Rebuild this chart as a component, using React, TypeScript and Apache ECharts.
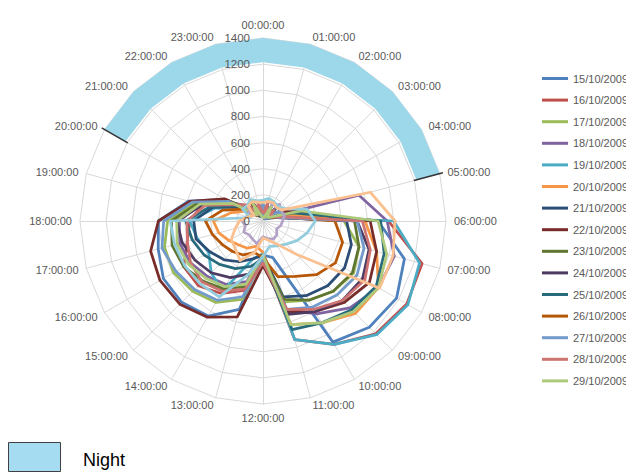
import React, { useEffect, useRef } from 'react';
import * as echarts from 'echarts';

const hourLabels = [
  '00:00:00', '01:00:00', '02:00:00', '03:00:00', '04:00:00', '05:00:00',
  '06:00:00', '07:00:00', '08:00:00', '09:00:00', '10:00:00', '11:00:00',
  '12:00:00', '13:00:00', '14:00:00', '15:00:00', '16:00:00', '17:00:00',
  '18:00:00', '19:00:00', '20:00:00', '21:00:00', '22:00:00', '23:00:00',
];
const radialTicks = [0, 200, 400, 600, 800, 1000, 1200, 1400];
const radialMax = 1400;

const nightHours = [20, 21, 22, 23, 0, 1, 2, 3, 4, 5];
const nightInner = 1215;
const nightOuter = 1400;

const seriesNames = [
  '15/10/2009', '16/10/2009', '17/10/2009', '18/10/2009', '19/10/2009', '20/10/2009',
  '21/10/2009', '22/10/2009', '23/10/2009', '24/10/2009', '25/10/2009', '26/10/2009',
  '27/10/2009', '28/10/2009', '29/10/2009', '30/10/2009', '31/10/2009', '01/11/2009',
];
const seriesColors = [
  '#4F81BD', '#C0504D', '#9BBB59', '#8064A2', '#4BACC6', '#F79646',
  '#2C4D75', '#772C2A', '#5F7530', '#4D3B62', '#276A7C', '#B65708',
  '#729ACA', '#CD7371', '#AFC97A', '#B3A2C7', '#93CDDD', '#FAC090',
];
const legendCount = 15;

// values per hour, 00:00 .. 23:00
const d1510 = [90, 30, 120, 35, 150, 130, 880, 1120, 1180, 1150, 1070, 290, 260, 700, 840, 880, 880, 830, 800, 590, 330, 80, 160, 50];
const d1610 = [50, 140, 30, 110, 60, 140, 960, 1260, 1270, 1220, 1090, 940, 280, 550, 640, 700, 700, 600, 560, 480, 260, 150, 70, 120];
const d1710 = [130, 45, 95, 30, 125, 220, 620, 760, 800, 760, 700, 640, 300, 620, 720, 760, 790, 780, 730, 540, 300, 70, 140, 40];
const d1810 = [35, 125, 40, 150, 60, 760, 950, 1040, 1020, 940, 820, 700, 250, 480, 560, 600, 640, 660, 640, 500, 280, 160, 60, 130];
const d1910 = [145, 35, 110, 40, 170, 150, 1000, 1240, 1280, 1230, 1090, 940, 250, 300, 620, 560, 480, 520, 560, 380, 200, 80, 155, 50];
const d2010 = [60, 110, 30, 90, 65, 180, 780, 900, 1020, 1000, 900, 820, 240, 200, 240, 260, 300, 350, 380, 250, 150, 60, 100, 70];
const d2110 = [30, 75, 20, 60, 40, 110, 640, 700, 720, 700, 660, 600, 260, 300, 360, 420, 470, 530, 530, 400, 220, 60, 40, 85];
const d2210 = [105, 40, 135, 30, 150, 260, 820, 900, 940, 880, 800, 720, 340, 760, 850, 900, 910, 890, 800, 580, 340, 100, 170, 60];
const d2310 = [40, 130, 45, 105, 50, 120, 700, 760, 790, 760, 700, 620, 280, 520, 600, 650, 700, 720, 700, 520, 290, 140, 50, 95];
const d2410 = [85, 30, 65, 40, 95, 100, 720, 840, 880, 860, 800, 740, 270, 420, 500, 560, 600, 640, 660, 480, 260, 60, 95, 40];
const d2510 = [50, 115, 40, 130, 55, 240, 900, 960, 1000, 960, 900, 860, 290, 360, 420, 470, 520, 560, 590, 420, 230, 120, 55, 145];
const d2610 = [45, 30, 100, 35, 60, 120, 550, 630, 640, 580, 490, 440, 280, 250, 300, 330, 360, 400, 440, 320, 180, 60, 110, 40];
const d2710 = [140, 35, 130, 25, 160, 110, 720, 800, 830, 800, 760, 700, 300, 600, 700, 740, 770, 800, 760, 560, 300, 80, 60, 45];
const d2810 = [55, 145, 35, 120, 60, 130, 760, 850, 900, 860, 780, 700, 320, 540, 620, 660, 640, 600, 580, 460, 250, 175, 60, 150];
const d2910 = [30, 25, 135, 45, 55, 300, 880, 980, 1020, 980, 900, 820, 260, 500, 580, 620, 660, 680, 660, 500, 270, 65, 150, 35];
const d3010 = [150, 170, 140, 180, 160, 170, 150, 140, 120, 150, 160, 140, 120, 180, 160, 150, 170, 140, 160, 130, 120, 160, 180, 150];
const d3110 = [160, 180, 170, 160, 190, 350, 400, 350, 300, 250, 220, 200, 270, 420, 670, 680, 690, 700, 710, 100, 180, 170, 190, 160];
const d0111 = [140, 155, 160, 145, 170, 850, 1010, 1030, 1030, 360, 200, 150, 130, 250, 350, 300, 280, 220, 180, 120, 80, 160, 170, 150];

const seriesValues = [d1510, d1610, d1710, d1810, d1910, d2010, d2110, d2210, d2310, d2410, d2510, d2610, d2710, d2810, d2910, d3010, d3110, d0111];

const bandColor = '#9CD7EA';
const nightBoxColor = '#A6DCF2';
const textColor = '#595959';
const gridColor = '#D9D9D9';
const fontFamily = '"Liberation Sans", Arial, sans-serif';

// ECharts radar runs counter-clockwise; list hours in reverse so they read clockwise.
const hourOrder = hourLabels.map((_, i) => (24 - i) % 24);

export default function App() {
  const ref = useRef<HTMLDivElement>(null);
  useEffect(() => {
    if (!ref.current) return;
    const chart = echarts.init(ref.current, undefined, { renderer: 'svg' });
    const center = [263, 221];
    const radius = 183;
    const option: any = {
      animation: false,
      backgroundColor: '#ffffff',
      textStyle: { fontFamily },
      radar: {
        center,
        radius,
        startAngle: 90,
        splitNumber: 7,
        shape: 'polygon',
        indicator: hourOrder.map((h) => ({ name: hourLabels[h], min: 0, max: radialMax })),
        nameGap: 8,
        axisName: { color: textColor, fontSize: 11, fontFamily },
        splitLine: { lineStyle: { color: gridColor, width: 1 } },
        splitArea: { show: false },
        axisLine: { lineStyle: { color: gridColor, width: 1 } },
        axisTick: { show: false },
        axisLabel: { show: false },
      },
      polar: { center, radius },
      angleAxis: { type: 'value', min: 0, max: 24, startAngle: 90, clockwise: true, show: false },
      radiusAxis: { type: 'value', min: 0, max: radialMax, show: false },
      legend: {
        orient: 'vertical',
        left: 542,
        top: 73,
        padding: 0,
        data: seriesNames.slice(0, legendCount),
        icon: 'rect',
        itemWidth: 26,
        itemHeight: 3,
        itemGap: 10.6,
        selectedMode: false,
        textStyle: { color: textColor, fontSize: 11, fontFamily },
      },
      graphic: [
        {
          type: 'rect',
          shape: { x: 8.5, y: 442.5, width: 52, height: 29 },
          style: { fill: nightBoxColor, stroke: '#404040', lineWidth: 1 },
        },
        {
          type: 'text',
          x: 83,
          y: 460,
          style: { text: 'Night', fill: '#000000', font: `18px ${fontFamily}`, verticalAlign: 'middle' },
        },
      ],
      series: [
        {
          type: 'custom',
          coordinateSystem: 'polar',
          silent: true,
          z: 1,
          data: [[nightOuter, 0]],
          renderItem: (params: any, api: any) => {
            const outer = nightHours.map((h) => api.coord([nightOuter, h]));
            const inner = nightHours.slice().reverse().map((h) => api.coord([nightInner, h]));
            const hFirst = nightHours[0];
            const hLast = nightHours[nightHours.length - 1];
            const a1 = api.coord([nightInner - 20, hFirst]);
            const a2 = api.coord([nightOuter + 25, hFirst]);
            const b1 = api.coord([nightInner - 20, hLast]);
            const b2 = api.coord([nightOuter + 25, hLast]);
            return {
              type: 'group',
              children: [
                { type: 'polygon', shape: { points: outer.concat(inner) }, style: { fill: bandColor } },
                { type: 'line', shape: { x1: a1[0], y1: a1[1], x2: a2[0], y2: a2[1] }, style: { stroke: '#333333', lineWidth: 1.5 } },
                { type: 'line', shape: { x1: b1[0], y1: b1[1], x2: b2[0], y2: b2[1] }, style: { stroke: '#333333', lineWidth: 1.5 } },
              ],
            };
          },
        },
        ...seriesValues.map((vals, i) => ({
          type: 'radar',
          name: seriesNames[i],
          z: 2,
          symbol: 'none',
          lineStyle: { width: 2.75, color: seriesColors[i], join: 'round' },
          itemStyle: { color: seriesColors[i] },
          data: [{ name: seriesNames[i], value: hourOrder.map((h) => vals[h]) }],
        })),
        {
          type: 'custom',
          coordinateSystem: 'polar',
          silent: true,
          z: 3,
          data: radialTicks.map((v) => [v, 0]),
          renderItem: (params: any, api: any) => {
            const v = api.value(0);
            const p = api.coord([v, 0]);
            return {
              type: 'text',
              x: p[0] - 13,
              y: p[1],
              style: { text: String(v), fill: textColor, font: `11.5px ${fontFamily}`, align: 'right', verticalAlign: 'middle' },
            };
          },
        },
      ],
    };
    chart.setOption(option);
    return () => chart.dispose();
  }, []);
  return <div ref={ref} style={{ position: 'fixed', left: 0, top: 0, width: 626, height: 473 }} />;
}
